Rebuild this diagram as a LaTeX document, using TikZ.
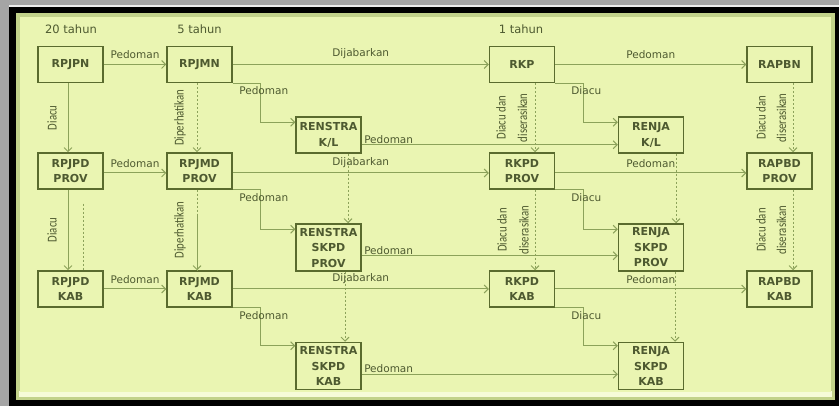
\documentclass[tikz,border=0pt]{standalone}
\usepackage{fontspec}
\usepackage{graphicx}
\setmainfont{DejaVu Sans}
\newfontfamily\narrowfont{Carlito}
\usetikzlibrary{arrows.meta,calc}
\definecolor{bggreen}{HTML}{EAF5B2}
\definecolor{bevelcol}{HTML}{C2D28A}
\definecolor{hilite}{HTML}{F6FBD8}
\definecolor{framegray}{HTML}{A5A5A5}
\definecolor{boxcol}{HTML}{5A6B2E}
\definecolor{linecol}{HTML}{8CA25A}
\definecolor{txtcol}{HTML}{4E5A30}
\newcommand{\rtext}[1]{\scalebox{0.8}[1]{\narrowfont\fontsize{13.5}{14}\selectfont #1}}
\begin{document}
\begin{tikzpicture}[x=1pt,y=-1pt,
  box/.style={draw=boxcol, line width=1.5pt, minimum width=65pt, minimum height=36pt, inner sep=0pt, align=center, font=\fontsize{11}{15.5}\selectfont\bfseries, text=txtcol},
  tallbox/.style={box, minimum height=47pt},
  conn/.style={draw=linecol, line width=1pt, -{Straight Barb[length=4pt,width=8pt,line width=0.9pt]}},
  dots/.style={conn, dash pattern=on 2pt off 2pt},
  lbl/.style={font=\fontsize{10.5}{12}\selectfont, text=txtcol, inner sep=1pt},
  rlbl/.style={text=txtcol, rotate=90, inner sep=0pt},
  hdr/.style={font=\fontsize{11.5}{13}\selectfont, text=txtcol}]
% frame
\useasboundingbox (0,0) rectangle (839,406);
\fill[framegray] (0,0) rectangle (839,406);
\fill[white!85!gray] (9,5.5) rectangle (839,7);
\fill[black] (9,7) rectangle (839,406);
\fill[bevelcol] (16,13) rectangle (835,400);
\fill[hilite] (19,391) rectangle (832,397);
\fill[bggreen] (20,17) rectangle (831,392);
% headers
\node[hdr] (h20) at (71,29) {20 tahun};
\node[hdr] (h5) at (199.5,29) {5 tahun};
\node[hdr] (h1) at (521,29) {1 tahun};
% boxes
\node[box] (rpjpn) at (70.5,64.5) {RPJPN};
\node[box] (rpjmn) at (199.5,64.5) {RPJMN};
\node[box] (rkp) at (522,64.5) {RKP};
\node[box] (rapbn) at (779.5,64.5) {RAPBN};
\node[box] (renstrakl) at (328.5,135) {RENSTRA\\K/L};
\node[box] (renjakl) at (651,135) {RENJA\\K/L};
\node[box] (rpjpdprov) at (70.5,171) {RPJPD\\PROV};
\node[box] (rpjmdprov) at (199.5,171) {RPJMD\\PROV};
\node[box] (rkpdprov) at (522,171) {RKPD\\PROV};
\node[box] (rapbdprov) at (779.5,171) {RAPBD\\PROV};
\node[tallbox] (renstraprov) at (328.5,247.5) {RENSTRA\\SKPD\\PROV};
\node[tallbox] (renjaprov) at (651,247.5) {RENJA\\SKPD\\PROV};
\node[box] (rpjpdkab) at (70.5,289) {RPJPD\\KAB};
\node[box] (rpjmdkab) at (199.5,289) {RPJMD\\KAB};
\node[box] (rkpdkab) at (522,289) {RKPD\\KAB};
\node[box] (rapbdkab) at (779.5,289) {RAPBD\\KAB};
\node[tallbox] (renstrakab) at (328.5,366) {RENSTRA\\SKPD\\KAB};
\node[tallbox] (renjakab) at (651,366) {RENJA\\SKPD\\KAB};
% horizontal row connectors
\draw[conn] (rpjpn.east) -- node[lbl, above=4pt]{Pedoman} (rpjmn.west);
\draw[conn] (rpjmn.east) -- node[lbl, above=4pt]{Dijabarkan} (rkp.west);
\draw[conn] (rkp.east) -- node[lbl, above=4pt]{Pedoman} (rapbn.west);
\draw[conn] ([yshift=-2pt]rpjpdprov.east) -- node[lbl, above=4pt]{Pedoman} ([yshift=-2pt]rpjmdprov.west);
\draw[conn] ([yshift=-2pt]rpjmdprov.east) -- node[lbl, above=4pt]{Dijabarkan} ([yshift=-2pt]rkpdprov.west);
\draw[conn] ([yshift=-2pt]rkpdprov.east) -- node[lbl, above=4pt]{Pedoman} ([yshift=-2pt]rapbdprov.west);
\draw[conn] (rpjpdkab.east) -- node[lbl, above=4pt]{Pedoman} (rpjmdkab.west);
\draw[conn] (rpjmdkab.east) -- node[lbl, above=4pt]{Dijabarkan} (rkpdkab.west);
\draw[conn] (rkpdkab.east) -- node[lbl, above=4pt]{Pedoman} (rapbdkab.west);
% corner connectors
\draw[conn] (rpjmn.south east) -- ++(28,0) node[lbl, anchor=north, xshift=3pt, yshift=-2pt]{Pedoman} |- ([yshift=-6pt]renstrakl.north west);
\draw[conn] (rkp.south east) -- ++(28,0) node[lbl, anchor=north, xshift=3pt, yshift=-2pt]{Diacu} |- ([yshift=-6pt]renjakl.north west);
\draw[conn] (rpjmdprov.south east) -- ++(28,0) node[lbl, anchor=north, xshift=3pt, yshift=-2pt]{Pedoman} |- ([yshift=-6pt]renstraprov.north west);
\draw[conn] (rkpdprov.south east) -- ++(28,0) node[lbl, anchor=north, xshift=3pt, yshift=-2pt]{Diacu} |- ([yshift=-6pt]renjaprov.north west);
\draw[conn] (rpjmdkab.south east) -- ++(28,0) node[lbl, anchor=north, xshift=3pt, yshift=-2pt]{Pedoman} |- ([yshift=-4pt]renstrakab.north west);
\draw[conn] (rkpdkab.south east) -- ++(28,0) node[lbl, anchor=north, xshift=3pt, yshift=-2pt]{Diacu} |- ([yshift=-4pt]renjakab.north west);
% renstra -> renja
\draw[conn] ([yshift=9pt]renstrakl.south east) -- node[lbl, pos=0, anchor=south west, xshift=1pt]{Pedoman} ([yshift=9pt]renjakl.south west);
\draw[conn] ([yshift=16pt]renstraprov.south east) -- node[lbl, pos=0, anchor=south west, xshift=1pt]{Pedoman} ([yshift=16pt]renjaprov.south west);
\draw[conn] ([yshift=16pt]renstrakab.south east) -- node[lbl, pos=0, anchor=south west, xshift=1pt]{Pedoman} ([yshift=16pt]renjakab.south west);
% vertical connectors, national -> province (rotated labels: yshift moves them left)
\draw[conn] ([xshift=-2.5pt]rpjpn.south) -- node[rlbl, yshift=16pt]{\rtext{Diacu}} ([xshift=-2.5pt]rpjpdprov.north);
\draw[dots] ([xshift=-2.5pt]rpjmn.south) -- node[rlbl, yshift=17pt]{\rtext{Diperhatikan}} ([xshift=-2.5pt]rpjmdprov.north);
\draw[dots] ([xshift=13pt]rkp.south) -- node[rlbl, yshift=34pt]{\rtext{Diacu dan}} node[rlbl, yshift=12.5pt]{\rtext{diserasikan}} ([xshift=13pt]rkpdprov.north);
\draw[dots] ([xshift=13.5pt]rapbn.south) -- node[rlbl, yshift=32pt]{\rtext{Diacu dan}} node[rlbl, yshift=11.5pt]{\rtext{diserasikan}} ([xshift=13.5pt]rapbdprov.north);
\draw[dots] ([xshift=19.5pt]renstrakl.south) -- ([xshift=19.5pt]renstraprov.north);
\draw[dots] ([xshift=25pt]renjakl.south) -- ([xshift=25pt]renjaprov.north);
% vertical connectors, province -> kabupaten
\draw[conn] ([xshift=-2.5pt]rpjpdprov.south) -- node[rlbl, yshift=16pt]{\rtext{Diacu}} ([xshift=-2.5pt]rpjpdkab.north);
\draw[dots, -] ([xshift=12.5pt, yshift=-14pt]rpjpdprov.south) -- ([xshift=12.5pt]rpjpdkab.north);
\draw[dots, -] ([xshift=-2.5pt]rpjmdprov.south) -- node[rlbl, yshift=17pt]{\rtext{Diperhatikan}} ([xshift=-2.5pt]rpjmdkab.north);
\draw[conn] ([xshift=-2.5pt, yshift=-24pt]rpjmdprov.south) coordinate (msplit) -- ([xshift=-2.5pt]rpjmdkab.north);
\draw[dots] ([xshift=13pt]rkpdprov.south) -- node[rlbl, yshift=33pt]{\rtext{Diacu dan}} node[rlbl, yshift=11pt]{\rtext{diserasikan}} ([xshift=13pt]rkpdkab.north);
\draw[dots] ([xshift=13.5pt]rapbdprov.south) -- node[rlbl, yshift=32pt]{\rtext{Diacu dan}} node[rlbl, yshift=11.5pt]{\rtext{diserasikan}} ([xshift=13.5pt]rapbdkab.north);
\draw[dots] ([xshift=16.5pt]renstraprov.south) -- ([xshift=16.5pt]renstrakab.north);
\draw[dots] ([xshift=24pt]renjaprov.south) -- ([xshift=24pt]renjakab.north);
\end{tikzpicture}
\end{document}
